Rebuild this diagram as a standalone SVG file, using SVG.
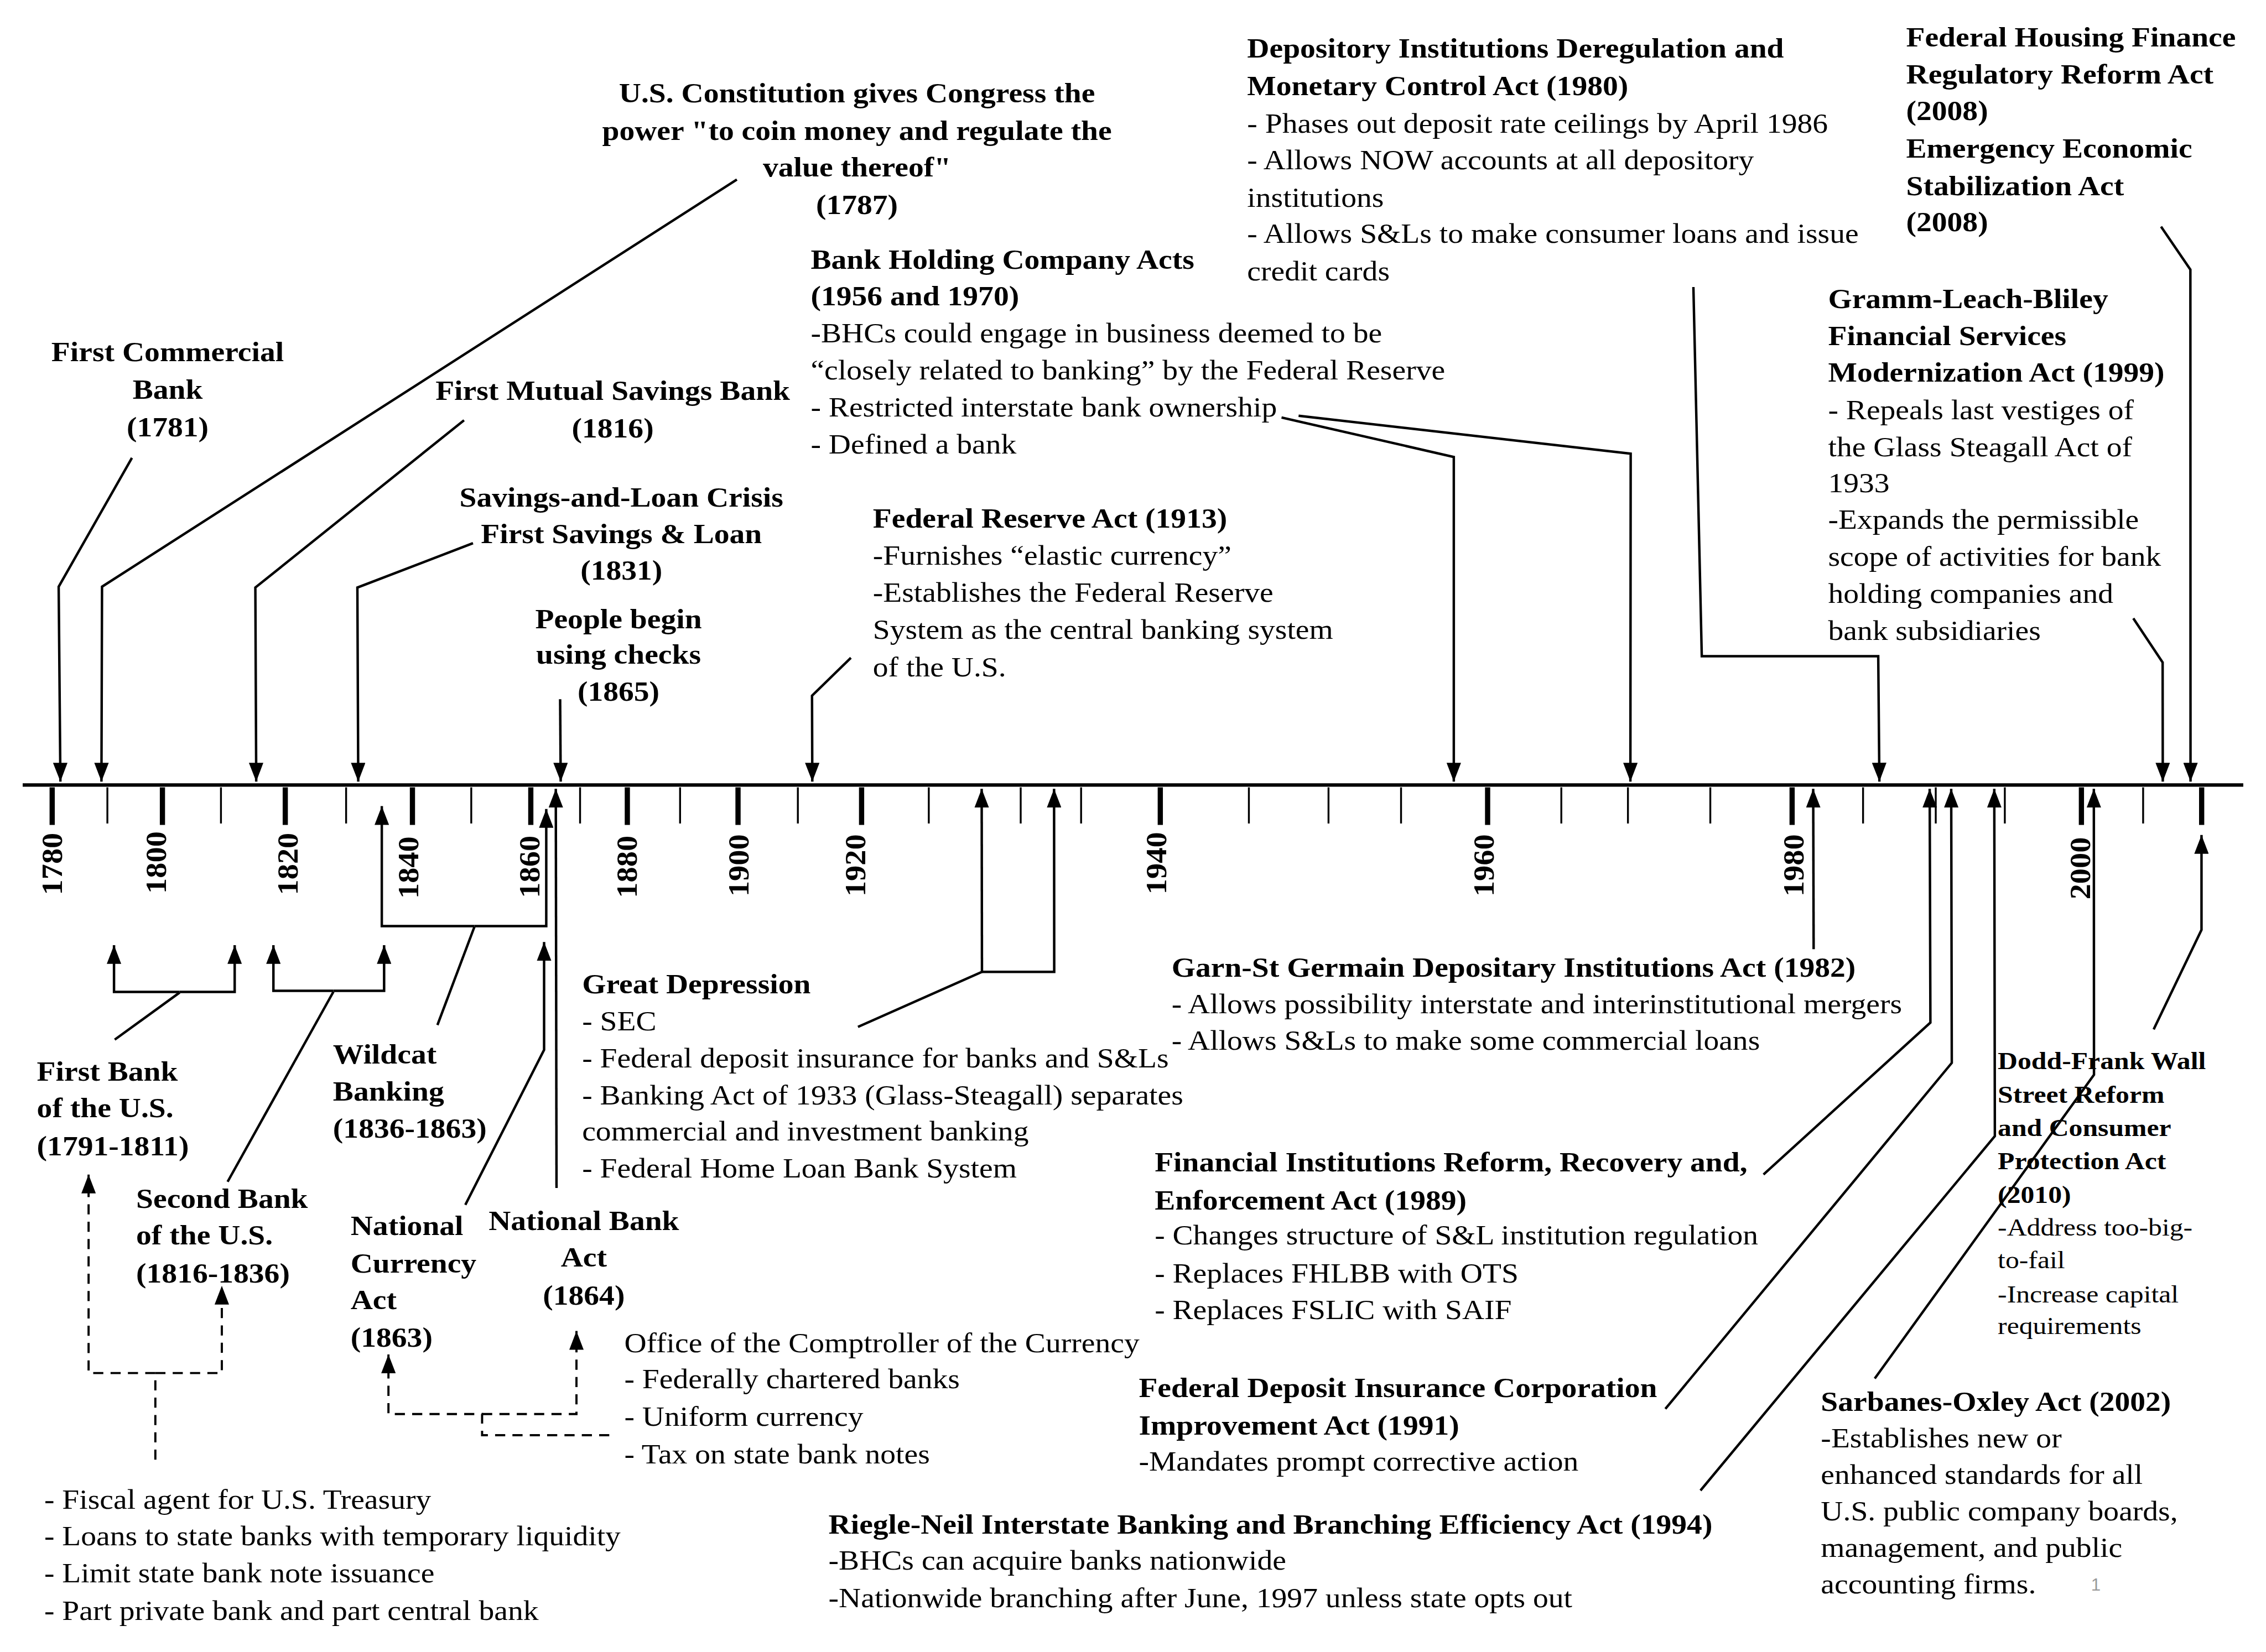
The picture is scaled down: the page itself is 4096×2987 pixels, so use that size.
<svg xmlns="http://www.w3.org/2000/svg" width="4096" height="2987" viewBox="0 0 4096 2987">
<style>
text { font-family: "Liberation Serif", "Times New Roman", serif; fill: #000; }
.b { font-weight: bold; }
.t { font-size: 19px; }
.s { font-size: 17px; }
.yr { font-size: 20px; font-weight: bold; }
.ln { fill: none; stroke: #000; stroke-width: 1.7; stroke-linejoin: miter; }
.ar { marker-end: url(#ah); }
.ds { stroke-dasharray: 7 5; stroke-width: 1.5; }
.axis { stroke: #000; stroke-width: 2.4; }
.tk { stroke: #000; stroke-width: 1.3; }
.tkb { stroke: #000; stroke-width: 3.6; }
.pg { font-size: 12px; fill: #999; font-family: "Liberation Sans", Arial, sans-serif; }
</style>
<defs>
<marker id="ah" markerUnits="userSpaceOnUse" viewBox="0 0 13 10" markerWidth="13" markerHeight="10" refX="13" refY="5" orient="auto">
<path d="M0,0 L13,5 L0,10 z" fill="#000"/>
</marker>
</defs>
<rect width="4096" height="2987" fill="#fff"/>
<g transform="scale(2.6122)">

<g id="axis">
<line class="axis" x1="15.7" y1="543.4" x2="1552.3" y2="543.4"/>
<g class="tkb">
<line x1="36.1" y1="545" x2="36.1" y2="571"/>
<line x1="112.4" y1="545" x2="112.4" y2="571"/>
<line x1="197.4" y1="545" x2="197.4" y2="571"/>
<line x1="285.4" y1="545" x2="285.4" y2="571"/>
<line x1="367.3" y1="545" x2="367.3" y2="571"/>
<line x1="434.1" y1="545" x2="434.1" y2="571"/>
<line x1="510.7" y1="545" x2="510.7" y2="571"/>
<line x1="596.2" y1="545" x2="596.2" y2="571"/>
<line x1="802.9" y1="545" x2="802.9" y2="571"/>
<line x1="1029.4" y1="545" x2="1029.4" y2="571"/>
<line x1="1240.1" y1="545" x2="1240.1" y2="571"/>
<line x1="1440.3" y1="545" x2="1440.3" y2="571"/>
<line x1="1523.5" y1="545" x2="1523.5" y2="571"/>
</g>
<g class="tk">
<line x1="74.3" y1="545" x2="74.3" y2="570"/>
<line x1="152.9" y1="545" x2="152.9" y2="570"/>
<line x1="239.5" y1="545" x2="239.5" y2="570"/>
<line x1="326.1" y1="545" x2="326.1" y2="570"/>
<line x1="401.4" y1="545" x2="401.4" y2="570"/>
<line x1="470.6" y1="545" x2="470.6" y2="570"/>
<line x1="552.1" y1="545" x2="552.1" y2="570"/>
<line x1="642.7" y1="545" x2="642.7" y2="570"/>
<line x1="706.3" y1="545" x2="706.3" y2="570"/>
<line x1="748.1" y1="545" x2="748.1" y2="570"/>
<line x1="864.2" y1="545" x2="864.2" y2="570"/>
<line x1="919.3" y1="545" x2="919.3" y2="570"/>
<line x1="969.5" y1="545" x2="969.5" y2="570"/>
<line x1="1080.4" y1="545" x2="1080.4" y2="570"/>
<line x1="1126.5" y1="545" x2="1126.5" y2="570"/>
<line x1="1183.5" y1="545" x2="1183.5" y2="570"/>
<line x1="1289.2" y1="545" x2="1289.2" y2="570"/>
<line x1="1339.5" y1="545" x2="1339.5" y2="570"/>
<line x1="1387.3" y1="545" x2="1387.3" y2="570"/>
<line x1="1483" y1="545" x2="1483" y2="570"/>
</g>
<g text-anchor="middle">
<text class="yr" transform="translate(42.8,598) rotate(-90) scale(1.08,1)">1780</text>
<text class="yr" transform="translate(114.7,597) rotate(-90) scale(1.08,1)">1800</text>
<text class="yr" transform="translate(205.8,598) rotate(-90) scale(1.08,1)">1820</text>
<text class="yr" transform="translate(289.3,600.5) rotate(-90) scale(1.08,1)">1840</text>
<text class="yr" transform="translate(373.2,600) rotate(-90) scale(1.08,1)">1860</text>
<text class="yr" transform="translate(440.8,600) rotate(-90) scale(1.08,1)">1880</text>
<text class="yr" transform="translate(517.8,599) rotate(-90) scale(1.08,1)">1900</text>
<text class="yr" transform="translate(598.8,599) rotate(-90) scale(1.08,1)">1920</text>
<text class="yr" transform="translate(806.8,597.5) rotate(-90) scale(1.08,1)">1940</text>
<text class="yr" transform="translate(1033.7,599) rotate(-90) scale(1.08,1)">1960</text>
<text class="yr" transform="translate(1248.1,599) rotate(-90) scale(1.08,1)">1980</text>
<text class="yr" transform="translate(1446.1,601) rotate(-90) scale(1.08,1)">2000</text>
</g>
</g>

<g id="connectors" class="ln">
<path class="ar" d="M91.3,316.9 L40.6,406.1 L41.8,541"/>
<path class="ar" d="M509.9,124.3 L70.6,406.1 L70.2,541"/>
<path class="ar" d="M321.1,290.9 L176.7,406.7 L177.3,541"/>
<path class="ar" d="M327.3,376 L247.3,406.7 L247.9,541"/>
<path class="ar" d="M387.6,484 L388,541"/>
<path class="ar" d="M588.8,455.3 L561.9,481.6 L562.1,541"/>
<path class="ar" d="M886.8,289 L1006,316.3 L1006,541"/>
<path class="ar" d="M898.6,287.8 L1128.4,314 L1128.2,541"/>
<path class="ar" d="M1171.8,198.7 L1177.6,454.2 L1299.7,454.2 L1300.5,541"/>
<path class="ar" d="M1476.2,428 L1496.5,458.5 L1496.6,541"/>
<path class="ar" d="M1495.4,156.9 L1515.7,186.6 L1515.8,541"/>

<path class="ar" d="M1255,657 L1254.7,546"/>
<path class="ar" d="M1220.3,813 L1335.8,707.8 L1335.3,546"/>
<path class="ar" d="M1152.4,975.2 L1350.6,735.7 L1350.2,546"/>
<path class="ar" d="M1176.7,1031.7 L1380.4,786.4 L1380,546"/>
<path class="ar" d="M1297.3,954.2 L1449,743.9 L1448.9,546"/>
<path class="ar" d="M1490.3,712.5 L1523.4,643.6 L1523.4,578"/>

<path d="M593.7,710.8 L679.5,672.7"/>
<path class="ar" d="M679.5,672.7 L679.3,546"/>
<path class="ar" d="M679.5,672.7 L729.5,672.7 L729.4,546"/>

<path class="ar" d="M385.1,822.3 L384.6,546"/>

<path d="M302.7,709.5 L328.3,641.5"/>
<path class="ar" d="M328.3,641 L264.2,641 L264.2,558"/>
<path class="ar" d="M328.3,641 L378,641 L378,560"/>

<path class="ar" d="M322,834 L376.5,726.7 L376.5,652"/>

<path d="M79.4,719.6 L124.3,687"/>
<path class="ar" d="M124.3,686.6 L78.9,686.6 L78.9,654.2"/>
<path class="ar" d="M124.3,686.6 L162.4,686.6 L162.4,654.2"/>

<path d="M157.5,818 L230.7,686.5"/>
<path class="ar" d="M230.7,685.8 L189.2,685.8 L189.2,654.2"/>
<path class="ar" d="M230.7,685.8 L265.8,685.8 L265.8,654.2"/>

<path class="ar ds" d="M107.5,1010.4 L107.5,950.4 L61.3,950.4 L61.3,813"/>
<path class="ar ds" d="M107.5,950.4 L153.5,950.4 L153.5,890"/>
<path class="ar ds" d="M421.6,993.4 L333.6,993.4 L333.6,978.8 L268.8,978.8 L268.8,937.5"/>
<path class="ar ds" d="M333.6,978.8 L398.9,978.8 L398.9,921.3"/>
</g>

<g id="first-commercial-bank">
<text class="b t" text-anchor="middle" transform="translate(116,0) scale(1.12,1)"><tspan x="0" y="250">First Commercial</tspan><tspan x="0" y="276">Bank</tspan><tspan x="0" y="302">(1781)</tspan></text>
</g>
<g id="constitution">
<text class="b t" text-anchor="middle" transform="translate(593,0) scale(1.12,1)"><tspan x="0" y="71">U.S. Constitution gives Congress the</tspan><tspan x="0" y="97">power "to coin money and regulate the</tspan><tspan x="0" y="122">value thereof"</tspan><tspan x="0" y="148">(1787)</tspan></text>
</g>
<g id="first-mutual-savings-bank">
<text class="b t" text-anchor="middle" transform="translate(424,0) scale(1.12,1)"><tspan x="0" y="276.7">First Mutual Savings Bank</tspan><tspan x="0" y="302.7">(1816)</tspan></text>
</g>
<g id="savings-and-loan">
<text class="b t" text-anchor="middle" transform="translate(430,0) scale(1.12,1)"><tspan x="0" y="350.6">Savings-and-Loan Crisis</tspan><tspan x="0" y="376">First Savings &amp; Loan</tspan><tspan x="0" y="401.2">(1831)</tspan></text>
</g>
<g id="checks">
<text class="b t" text-anchor="middle" transform="translate(428,0) scale(1.12,1)"><tspan x="0" y="435">People begin</tspan><tspan x="0" y="459.5">using checks</tspan><tspan x="0" y="485">(1865)</tspan></text>
</g>
<g id="bank-holding-company-acts">
<text class="t" transform="translate(561,0) scale(1.12,1)"><tspan class="b" x="0" y="186">Bank Holding Company Acts</tspan><tspan class="b" x="0" y="211.5">(1956 and 1970)</tspan><tspan x="0" y="237">-BHCs could engage in business deemed to be</tspan><tspan x="0" y="262.7">“closely related to banking”  by the Federal Reserve</tspan><tspan x="0" y="288.3">- Restricted interstate bank ownership</tspan><tspan x="0" y="314">-  Defined a bank</tspan></text>
</g>
<g id="federal-reserve-act">
<text class="t" transform="translate(604,0) scale(1.12,1)"><tspan class="b" x="0" y="365.3">Federal Reserve Act (1913)</tspan><tspan x="0" y="390.7">-Furnishes “elastic currency”</tspan><tspan x="0" y="416.5">-Establishes the Federal Reserve</tspan><tspan x="0" y="442.3">System as the central banking system</tspan><tspan x="0" y="468.2">of the U.S.</tspan></text>
</g>
<g id="didmca">
<text class="t" transform="translate(863,0) scale(1.12,1)"><tspan class="b" x="0" y="40">Depository Institutions  Deregulation and</tspan><tspan class="b" x="0" y="66">Monetary Control Act  (1980)</tspan><tspan x="0" y="92">- Phases out deposit rate ceilings by April 1986</tspan><tspan x="0" y="117">- Allows NOW accounts at all depository</tspan><tspan x="0" y="143">institutions</tspan><tspan x="0" y="168">- Allows S&amp;Ls to make consumer loans and issue</tspan><tspan x="0" y="194">credit cards</tspan></text>
</g>
<g id="housing-and-stabilization-2008">
<text class="b t" transform="translate(1319,0) scale(1.12,1)"><tspan x="0" y="32">Federal Housing Finance</tspan><tspan x="0" y="58">Regulatory Reform Act</tspan><tspan x="0" y="83">(2008)</tspan><tspan x="0" y="109">Emergency Economic</tspan><tspan x="0" y="135">Stabilization Act</tspan><tspan x="0" y="160">(2008)</tspan></text>
</g>
<g id="gramm-leach-bliley">
<text class="t" transform="translate(1265,0) scale(1.12,1)"><tspan class="b" x="0" y="213.4">Gramm-Leach-Bliley</tspan><tspan class="b" x="0" y="238.8">Financial Services</tspan><tspan class="b" x="0" y="264.1">Modernization  Act (1999)</tspan><tspan x="0" y="290">- Repeals last vestiges of</tspan><tspan x="0" y="315.8">the Glass Steagall Act of</tspan><tspan x="0" y="340.7">1933</tspan><tspan x="0" y="366">-Expands the permissible</tspan><tspan x="0" y="391.8">scope of activities for bank</tspan><tspan x="0" y="417.2">holding companies and</tspan><tspan x="0" y="442.8">bank subsidiaries</tspan></text>
</g>

<g id="first-bank-us">
<text class="b t" transform="translate(25.5,0) scale(1.12,1)"><tspan x="0" y="748">First Bank</tspan><tspan x="0" y="773.3">of the U.S.</tspan><tspan x="0" y="799.7">(1791-1811)</tspan></text>
</g>
<g id="second-bank-us">
<text class="b t" transform="translate(94.2,0) scale(1.12,1)"><tspan x="0" y="836.2">Second Bank</tspan><tspan x="0" y="861.5">of the U.S.</tspan><tspan x="0" y="887.8">(1816-1836)</tspan></text>
</g>
<g id="wildcat-banking">
<text class="b t" transform="translate(230.4,0) scale(1.12,1)"><tspan x="0" y="736">Wildcat</tspan><tspan x="0" y="762">Banking</tspan><tspan x="0" y="787.5">(1836-1863)</tspan></text>
</g>
<g id="national-currency-act">
<text class="b t" transform="translate(242.6,0) scale(1.12,1)"><tspan x="0" y="855">National</tspan><tspan x="0" y="881">Currency</tspan><tspan x="0" y="906">Act</tspan><tspan x="0" y="932">(1863)</tspan></text>
</g>
<g id="national-bank-act">
<text class="b t" text-anchor="middle" transform="translate(404,0) scale(1.12,1)"><tspan x="0" y="851.3">National Bank</tspan><tspan x="0" y="876.7">Act</tspan><tspan x="0" y="903">(1864)</tspan></text>
</g>
<g id="first-second-bank-notes">
<text class="t" transform="translate(30.6,0) scale(1.12,1)"><tspan x="0" y="1044.4">- Fiscal agent for U.S. Treasury</tspan><tspan x="0" y="1069.5">- Loans to state banks with temporary liquidity</tspan><tspan x="0" y="1095.4">- Limit state bank note issuance</tspan><tspan x="0" y="1121.4">- Part private bank and part central bank</tspan></text>
</g>
<g id="comptroller">
<text class="t" transform="translate(432,0) scale(1.12,1)"><tspan x="0" y="935.9">Office of the Comptroller of the Currency</tspan><tspan x="0" y="961">- Federally chartered banks</tspan><tspan x="0" y="986.9">- Uniform currency</tspan><tspan x="0" y="1012.8">- Tax on state bank notes</tspan></text>
</g>
<g id="great-depression">
<text class="t" transform="translate(402.8,0) scale(1.12,1)"><tspan class="b" x="0" y="687.5">Great Depression</tspan><tspan x="0" y="713.2">- SEC</tspan><tspan x="0" y="738.8">- Federal deposit insurance for banks and S&amp;Ls</tspan><tspan x="0" y="764.5">- Banking Act of 1933 (Glass-Steagall) separates</tspan><tspan x="0" y="789.4">commercial and investment banking</tspan><tspan x="0" y="815.2">- Federal Home Loan Bank System</tspan></text>
</g>
<g id="garn-st-germain">
<text class="t" transform="translate(810.7,0) scale(1.12,1)"><tspan class="b" x="0" y="676">Garn-St Germain  Depositary Institutions  Act (1982)</tspan><tspan x="0" y="701.4">- Allows possibility interstate and interinstitutional mergers</tspan><tspan x="0" y="726.7">- Allows S&amp;Ls to make some commercial loans</tspan></text>
</g>
<g id="firrea">
<text class="t" transform="translate(799,0) scale(1.12,1)"><tspan class="b" x="0" y="810.8">Financial Institutions  Reform, Recovery and,</tspan><tspan class="b" x="0" y="837.2">Enforcement Act (1989)</tspan><tspan x="0" y="861.5">- Changes  structure of S&amp;L  institution regulation</tspan><tspan x="0" y="887.8">- Replaces  FHLBB with OTS</tspan><tspan x="0" y="913.2">- Replaces  FSLIC  with SAIF</tspan></text>
</g>
<g id="fdicia">
<text class="t" transform="translate(788,0) scale(1.12,1)"><tspan class="b" x="0" y="967">Federal Deposit Insurance Corporation</tspan><tspan class="b" x="0" y="993">Improvement Act (1991)</tspan><tspan x="0" y="1018">-Mandates prompt corrective action</tspan></text>
</g>
<g id="riegle-neil">
<text class="t" transform="translate(573.3,0) scale(1.12,1)"><tspan class="b" x="0" y="1061.4">Riegle-Neil Interstate Banking and Branching Efficiency Act (1994)</tspan><tspan x="0" y="1086.5">-BHCs can acquire banks nationwide</tspan><tspan x="0" y="1112.4">-Nationwide branching after June, 1997 unless state opts out</tspan></text>
</g>
<g id="sarbanes-oxley">
<text class="t" transform="translate(1260,0) scale(1.12,1)"><tspan class="b" x="0" y="976.4">Sarbanes-Oxley Act (2002)</tspan><tspan x="0" y="1001.8">-Establishes new or</tspan><tspan x="0" y="1027.1">enhanced standards for all</tspan><tspan x="0" y="1052.4">U.S. public company boards,</tspan><tspan x="0" y="1077.8">management, and public</tspan><tspan x="0" y="1103">accounting firms.</tspan></text>
</g>
<g id="dodd-frank">
<text class="s" transform="translate(1382.4,0) scale(1.12,1)"><tspan class="b" x="0" y="739.9">Dodd-Frank Wall</tspan><tspan class="b" x="0" y="763.2">Street Reform</tspan><tspan class="b" x="0" y="786.5">and Consumer</tspan><tspan class="b" x="0" y="809.4">Protection Act</tspan><tspan class="b" x="0" y="832.5">(2010)</tspan><tspan x="0" y="855.4">-Address too-big-</tspan><tspan x="0" y="877.7">to-fail</tspan><tspan x="0" y="901.4">-Increase capital</tspan><tspan x="0" y="923.3">requirements</tspan></text>
</g>
<text class="pg" x="1447" y="1101">1</text>
</g>
</svg>
